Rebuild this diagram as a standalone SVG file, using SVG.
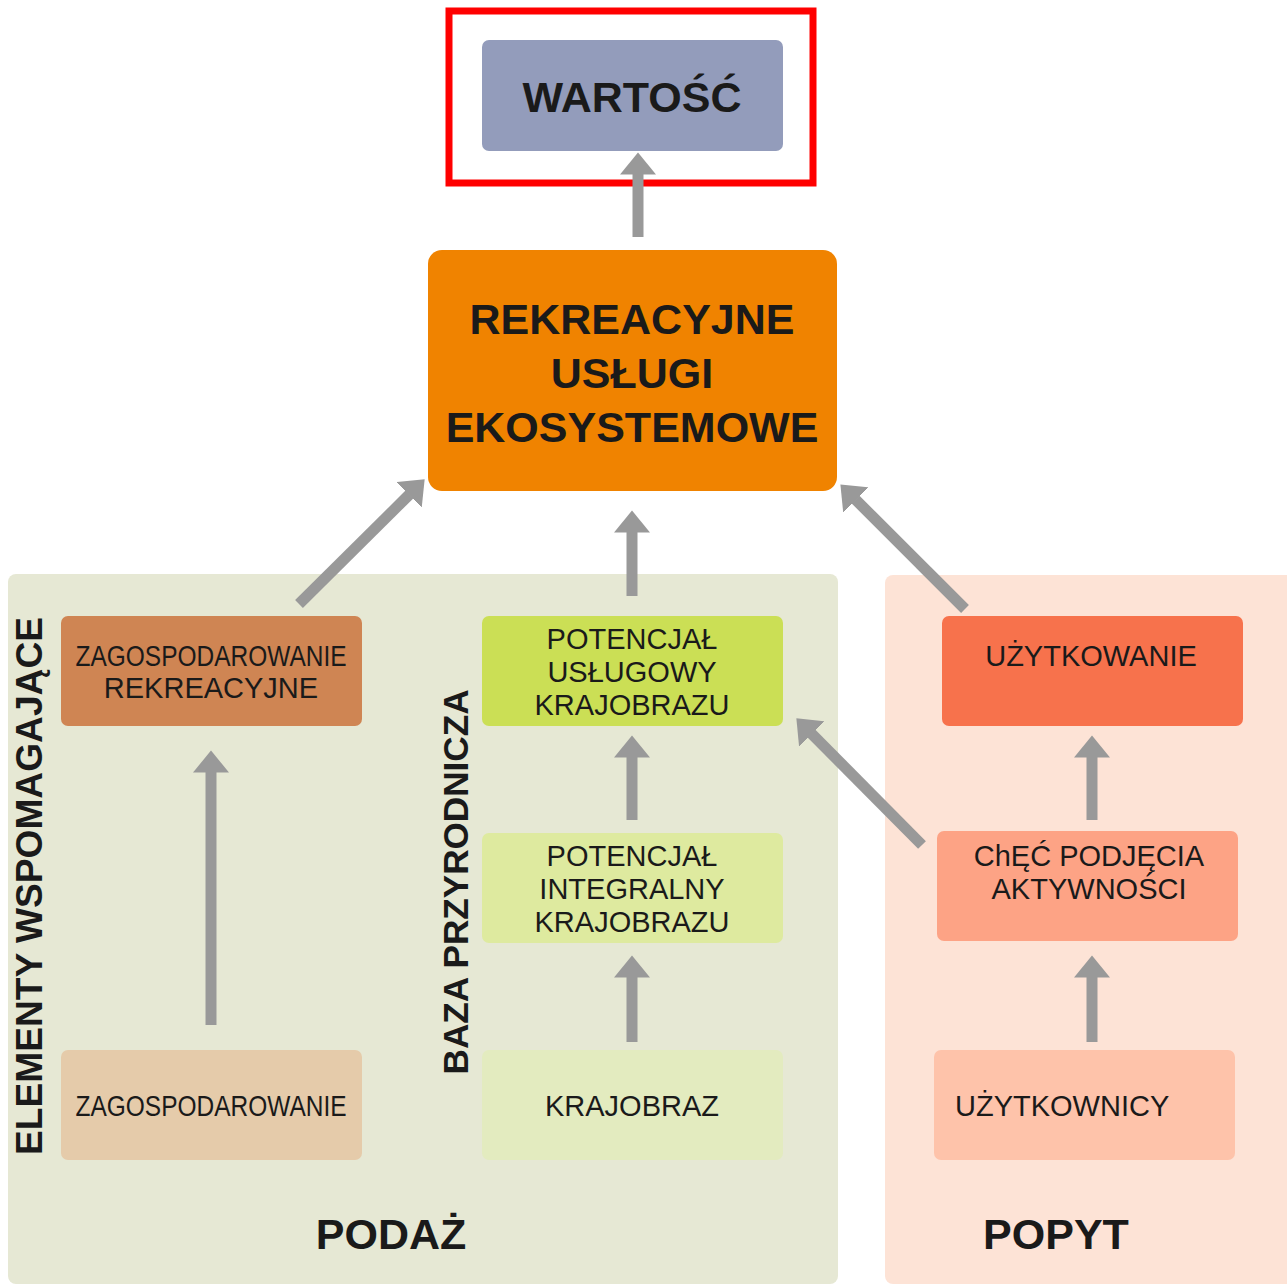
<svg xmlns="http://www.w3.org/2000/svg" width="1287" height="1286" viewBox="0 0 1287 1286">
<style>
.t{font-family:"Liberation Sans",Arial,sans-serif;fill:#1a1a1a;text-anchor:middle}
.r{font-size:29px}
.b{font-size:43px;font-weight:bold}
.v{font-weight:bold}
.arr{stroke:#999999;stroke-width:11;fill:none}
</style>
<defs>
<marker id="ah" markerUnits="userSpaceOnUse" markerWidth="24" markerHeight="36" refX="0.5" refY="18" orient="auto">
<path d="M0,0 L22,18 L0,36 Z" fill="#999999"/>
</marker>
</defs>
<rect width="1287" height="1286" fill="#ffffff"/>
<g id="panel-podaz">
<rect x="8" y="574" width="830" height="710" rx="8" fill="#E6E8D4"/>
<text class="t b" x="391" y="1249">PODAŻ</text>
</g>
<g id="panel-popyt">
<rect x="885" y="575" width="410" height="709" rx="8" fill="#FDE3D6"/>
<text class="t b" x="1056" y="1249">POPYT</text>
</g>
<g id="label-elementy">
<text class="t v" font-size="36" transform="translate(42,886) rotate(-90)" textLength="538" lengthAdjust="spacingAndGlyphs">ELEMENTY WSPOMAGAJĄCE</text>
</g>
<g id="label-baza">
<text class="t v" font-size="35" transform="translate(468,882) rotate(-90)" textLength="385" lengthAdjust="spacingAndGlyphs">BAZA PRZYRODNICZA</text>
</g>
<g id="highlight">
<rect x="449" y="11" width="364" height="172" fill="none" stroke="#FF0000" stroke-width="7"/>
</g>
<g id="wartosc">
<rect x="482" y="40" width="301" height="111" rx="7" fill="#939CBB"/>
<text class="t b" x="632" y="112">WARTOŚĆ</text>
</g>
<g id="rekreacyjne-uslugi">
<rect x="428" y="250" width="409" height="241" rx="14" fill="#F08300"/>
<text class="t b" x="632" y="334">REKREACYJNE</text>
<text class="t b" x="632" y="388">USŁUGI</text>
<text class="t b" x="632" y="442">EKOSYSTEMOWE</text>
</g>
<g id="zag-rekreacyjne">
<rect x="61" y="616" width="301" height="110" rx="7" fill="#CF8553"/>
<text class="t r" x="211" y="666" textLength="271" lengthAdjust="spacingAndGlyphs">ZAGOSPODAROWANIE</text>
<text class="t r" x="211" y="698">REKREACYJNE</text>
</g>
<g id="zagospodarowanie">
<rect x="61" y="1050" width="301" height="110" rx="7" fill="#E5CBAA"/>
<text class="t r" x="211" y="1116" textLength="271" lengthAdjust="spacingAndGlyphs">ZAGOSPODAROWANIE</text>
</g>
<g id="potencjal-uslugowy">
<rect x="482" y="616" width="301" height="110" rx="7" fill="#CBDF55"/>
<text class="t r" x="632" y="649">POTENCJAŁ</text>
<text class="t r" x="632" y="682">USŁUGOWY</text>
<text class="t r" x="632" y="715">KRAJOBRAZU</text>
</g>
<g id="potencjal-integralny">
<rect x="482" y="833" width="301" height="110" rx="7" fill="#DEEA9F"/>
<text class="t r" x="632" y="866">POTENCJAŁ</text>
<text class="t r" x="632" y="899">INTEGRALNY</text>
<text class="t r" x="632" y="932">KRAJOBRAZU</text>
</g>
<g id="krajobraz">
<rect x="482" y="1050" width="301" height="110" rx="7" fill="#E3EBBF"/>
<text class="t r" x="632" y="1116">KRAJOBRAZ</text>
</g>
<g id="uzytkowanie">
<rect x="942" y="616" width="301" height="110" rx="7" fill="#F7724C"/>
<text class="t r" x="1091" y="666">UŻYTKOWANIE</text>
</g>
<g id="chec">
<rect x="937" y="831" width="301" height="110" rx="7" fill="#FDA385"/>
<text class="t r" x="1089" y="866">ChĘĆ PODJĘCIA</text>
<text class="t r" x="1089" y="899">AKTYWNOŚCI</text>
</g>
<g id="uzytkownicy">
<rect x="934" y="1050" width="301" height="110" rx="7" fill="#FEC3AA"/>
<text class="t r" x="955" y="1116" style="text-anchor:start">UŻYTKOWNICY</text>
</g>
<g id="connectors">
<line class="arr" x1="638" y1="237" x2="638" y2="174" marker-end="url(#ah)"/>
<line class="arr" x1="632" y1="596" x2="632" y2="532" marker-end="url(#ah)"/>
<line class="arr" x1="299" y1="604" x2="409.4" y2="494.5" marker-end="url(#ah)"/>
<line class="arr" x1="965" y1="609" x2="855.6" y2="499.6" marker-end="url(#ah)"/>
<line class="arr" x1="211" y1="1025" x2="211" y2="772" marker-end="url(#ah)"/>
<line class="arr" x1="632" y1="1042" x2="632" y2="977" marker-end="url(#ah)"/>
<line class="arr" x1="632" y1="820" x2="632" y2="757" marker-end="url(#ah)"/>
<line class="arr" x1="922" y1="845" x2="811.5" y2="733.6" marker-end="url(#ah)"/>
<line class="arr" x1="1092" y1="1042" x2="1092" y2="977" marker-end="url(#ah)"/>
<line class="arr" x1="1092" y1="820" x2="1092" y2="757" marker-end="url(#ah)"/>
</g>
</svg>
